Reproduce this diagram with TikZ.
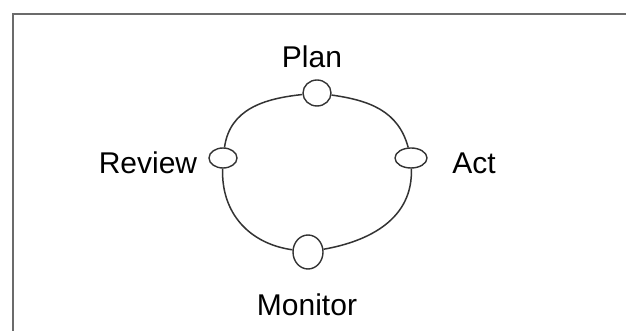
\documentclass[tikz,border=0pt]{standalone}
\usepackage{fontspec}
\setmainfont{Liberation Sans}
\usepackage{xcolor}
\definecolor{frameGray}{HTML}{6B6B6B}
\definecolor{lineDark}{HTML}{333333}
\usetikzlibrary{shapes.geometric}

\begin{document}
\begin{tikzpicture}[x=0.5pt, y=0.5pt,
  stage/.style={ellipse, draw=lineDark, line width=0.7pt, fill=white, inner sep=0pt},
  stagelabel/.style={font=\fontsize{15}{18}\selectfont, text=black, inner sep=0pt},
  cycleline/.style={lineDark, line width=0.75pt, looseness=1.05}]
  \useasboundingbox (0,0) rectangle (626,331);
  \fill[white] (0,0) rectangle (626,331);
  % frame (open at right and bottom)
  \draw[frameGray, line width=1.3pt] (13,0) -- (13,317) -- (626,317);
  % stages
  \node[stage, minimum width=14pt, minimum height=13pt] (plan) at (317,238) {};
  \node[stage, minimum width=16pt, minimum height=10pt] (act) at (411,173) {};
  \node[stage, minimum width=15pt, minimum height=17pt] (monitor) at (308,79) {};
  \node[stage, minimum width=14pt, minimum height=10pt] (review) at (223,173) {};
  % labels
  \node[stagelabel] (planText) at (312,274) {Plan};
  \node[stagelabel] (actText) at (474,168) {Act};
  \node[stagelabel] (monitorText) at (307,26) {Monitor};
  \node[stagelabel] (reviewText) at (148,168) {Review};
  % cycle
  \draw[cycleline] (plan) to[out=-8, in=105] (act);
  \draw[cycleline] (act) to[out=-88, in=10] (monitor);
  \draw[cycleline] (monitor) to[out=172, in=-92] (review);
  \draw[cycleline] (review) to[out=82, in=186] (plan);
\end{tikzpicture}
\end{document}
